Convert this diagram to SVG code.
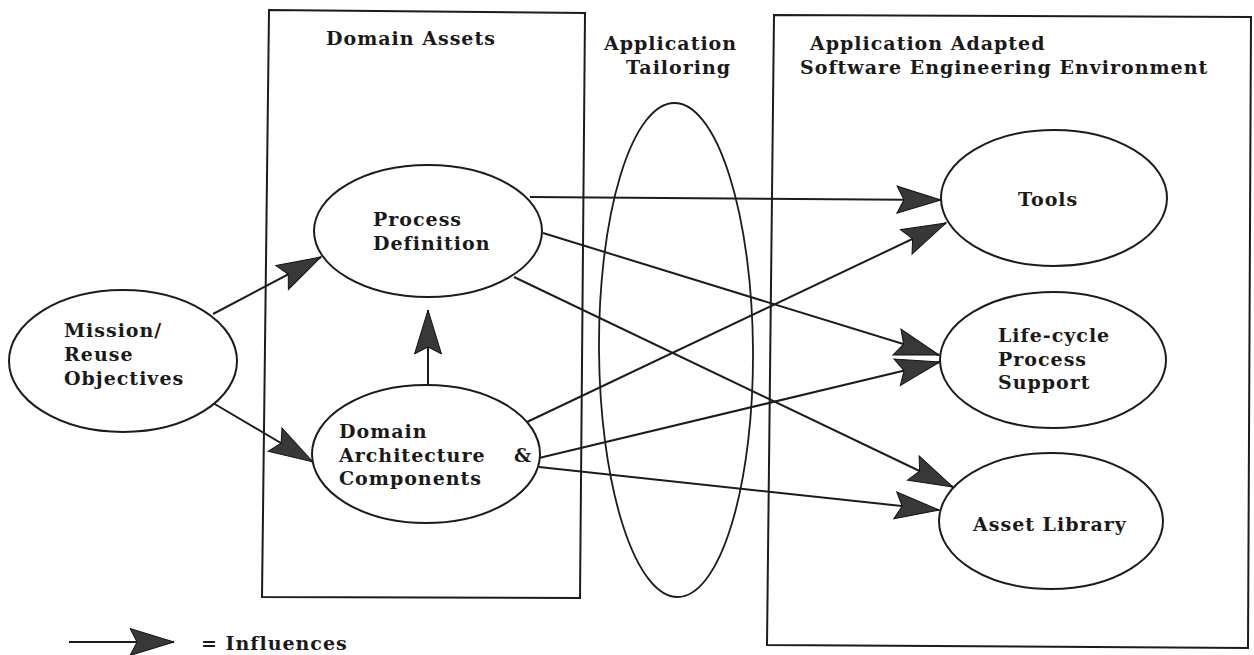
<svg xmlns="http://www.w3.org/2000/svg" width="1254" height="655" viewBox="0 0 1254 655">
  <style>
    .frame { fill: none; stroke: #1c1c1c; stroke-width: 2; }
    .node { fill: #ffffff; stroke: #1c1c1c; stroke-width: 2; }
    .band { fill: none; stroke: #1c1c1c; stroke-width: 1.8; }
    .lbl { font-family: "DejaVu Serif", "Liberation Serif", serif; font-weight: bold; font-size: 19px; letter-spacing: 1px; fill: #1a1a1a; }
    .edge { fill: none; stroke: #1c1c1c; stroke-width: 2; marker-end: url(#ah); }
  </style>
  <defs>
    <marker id="ah" markerUnits="userSpaceOnUse" markerWidth="50" markerHeight="32" viewBox="-47 -16 50 32" refX="0" refY="0" orient="auto" overflow="visible">
      <path d="M0,0 L-44,-13.5 L-37,0 L-44,13.5 Z" fill="#383838" stroke="#111" stroke-width="1" stroke-linejoin="miter"/>
    </marker>
  </defs>

  <rect width="1254" height="655" fill="#ffffff"/>

  <!-- Domain assets container -->
  <g id="domain-assets">
    <polygon class="frame" points="269,10 585,13 580,598 262,597"/>
    <text class="lbl" x="326" y="45">Domain Assets</text>
  </g>

  <!-- Application tailoring band -->
  <g id="application-tailoring">
    <ellipse class="band" cx="676" cy="350" rx="77" ry="247" transform="rotate(-0.4 676 350)"/>
    <text class="lbl" x="604" y="50">Application</text>
    <text class="lbl" x="626" y="74">Tailoring</text>
  </g>

  <!-- Software engineering environment container -->
  <g id="adapted-environment">
    <polygon class="frame" points="774,15 1251,17 1248,648 767,645"/>
    <text class="lbl" x="810" y="50">Application Adapted</text>
    <text class="lbl" x="800" y="74">Software Engineering Environment</text>
  </g>

  <!-- Connectors -->
  <g id="connectors">
    <line class="edge" x1="213" y1="314" x2="321" y2="257"/>
    <line class="edge" x1="213" y1="403" x2="313" y2="462"/>
    <line class="edge" x1="428" y1="385" x2="428" y2="310"/>
    <line class="edge" x1="530" y1="197" x2="941" y2="200"/>
    <line class="edge" x1="543" y1="233" x2="939" y2="355"/>
    <line class="edge" x1="514" y1="277" x2="953" y2="487"/>
    <line class="edge" x1="527" y1="422" x2="946" y2="223"/>
    <line class="edge" x1="539" y1="458" x2="940" y2="362"/>
    <line class="edge" x1="539" y1="467" x2="939" y2="510"/>
  </g>

  <g id="mission">
    <ellipse class="node" cx="123" cy="361" rx="114" ry="71"/>
    <text class="lbl" x="64" y="337">Mission/</text>
    <text class="lbl" x="64" y="361">Reuse</text>
    <text class="lbl" x="64" y="385">Objectives</text>
  </g>

  <g id="process-definition">
    <ellipse class="node" cx="428" cy="231" rx="114" ry="66"/>
    <text class="lbl" x="373" y="226">Process</text>
    <text class="lbl" x="373" y="250">Definition</text>
  </g>

  <g id="domain-architecture">
    <ellipse class="node" cx="426" cy="454" rx="114" ry="69"/>
    <text class="lbl" x="339" y="438">Domain</text>
    <text class="lbl" x="339" y="462">Architecture</text>
    <text class="lbl" x="339" y="485">Components</text>
    <text class="lbl" x="514" y="462">&amp;</text>
  </g>

  <g id="tools">
    <ellipse class="node" cx="1054" cy="198" rx="113" ry="68"/>
    <text class="lbl" x="1018" y="206">Tools</text>
  </g>

  <g id="life-cycle">
    <ellipse class="node" cx="1053" cy="360" rx="113" ry="68"/>
    <text class="lbl" x="998" y="342">Life-cycle</text>
    <text class="lbl" x="998" y="366">Process</text>
    <text class="lbl" x="998" y="389">Support</text>
  </g>

  <g id="asset-library">
    <ellipse class="node" cx="1051" cy="521" rx="112" ry="68"/>
    <text class="lbl" x="973" y="531">Asset Library</text>
  </g>

  <!-- Legend -->
  <g id="legend">
    <line class="edge" x1="69" y1="642" x2="174" y2="642"/>
    <text class="lbl" x="201" y="650">= Influences</text>
  </g>
</svg>
